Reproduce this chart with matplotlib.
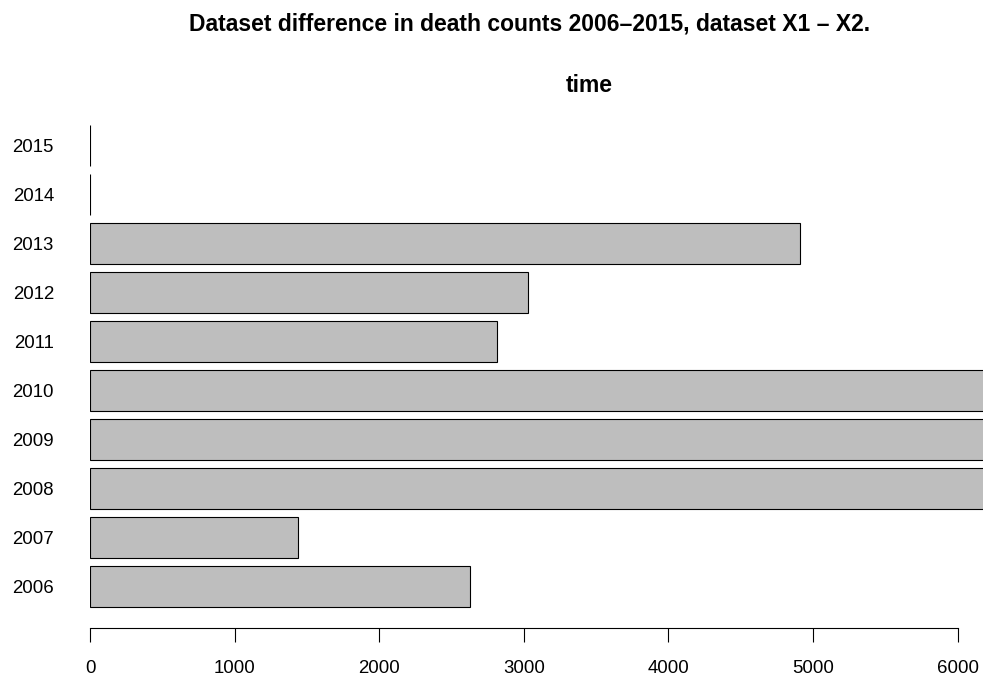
import matplotlib
matplotlib.use("Agg")
import matplotlib.pyplot as plt

plt.rcParams['font.family'] = ['Liberation Sans', 'DejaVu Sans']

# difference in death counts, dataset X1 - X2
years = ['2006', '2007', '2008', '2009', '2010', '2011', '2012', '2013', '2014', '2015']
diff = [2630, 1438, 8000, 8000, 8000, 2814, 3030, 4913, 0, 0]
xticks = [0, 1000, 2000, 3000, 4000, 5000, 6000]

W, H = 983, 676
fig = plt.figure(figsize=(W / 100, H / 100), dpi=100)

# plot region in pixels (left edge = zero, runs past the right border)
ax = fig.add_axes([90 / W, (H - 627.5) / H, (W - 90) / W, (627.5 - 106) / H])

ypos = [0.7 + 1.2 * i for i in range(len(years))]
ax.barh(ypos, diff, height=1.0, left=0, color='#BEBEBE', edgecolor='black',
        linewidth=0.8)

ax.set_xlim(0, (W - 90) / 144.6 * 1000)
ax.set_ylim(-0.3, 12.472)

for s in ['top', 'right', 'left']:
    ax.spines[s].set_visible(False)
ax.spines['bottom'].set_bounds(0, 6000)
ax.spines['bottom'].set_linewidth(0.8)

ax.set_xticks(xticks)
ax.set_xticklabels([str(t) for t in xticks], fontsize=13.4)
ax.tick_params(axis='x', length=10, width=0.8, pad=13.5)

ax.set_yticks(ypos)
ax.set_yticklabels(years, fontsize=13.4)
ax.tick_params(axis='y', length=0, pad=26)

fig.text(530 / W, 1 - 30 / H, 'Dataset difference in death counts 2006\u20132015, dataset X1 \u2013 X2.',
         ha='center', va='baseline', fontsize=16.5, fontweight='bold')
fig.text(589 / W, 1 - 92 / H, 'time', ha='center', va='baseline', fontsize=16.5, fontweight='bold')

fig.savefig('out.png', dpi=100)
